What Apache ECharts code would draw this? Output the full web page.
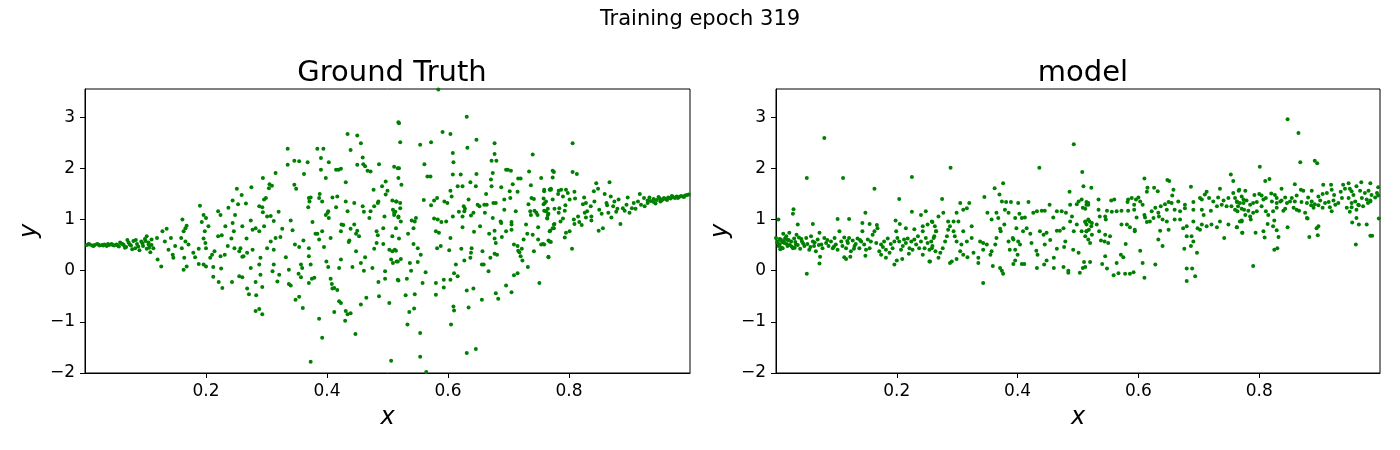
<!DOCTYPE html>
<html>
<head>
<meta charset="utf-8">
<script src="https://cdn.jsdelivr.net/npm/echarts@6/dist/echarts.min.js"></script>
<style>
  html, body { margin: 0; padding: 0; background: #fff; }
  #main { width: 1400px; height: 450px; }
</style>
</head>
<body>
<div id="main"></div>
<script>
// values, [x, y]
const groundTruth = [
  [0.003,0.50],[0.008,0.51],[0.012,0.49],[0.016,0.50],[0.020,0.52],[0.024,0.49],[0.028,0.50],[0.032,0.51],
  [0.036,0.48],[0.040,0.50],[0.044,0.52],[0.048,0.49],[0.052,0.51],[0.056,0.47],[0.060,0.53],[0.064,0.50],
  [0.068,0.46],[0.072,0.55],[0.076,0.49],[0.080,0.58],[0.083,0.44],[0.086,0.52],[0.090,0.40],[0.093,0.57],
  [0.096,0.48],[0.099,0.62],[0.102,0.43],[0.105,0.55],[0.108,0.36],[0.110,0.50],[0.058,0.55],[0.066,0.45],
  [0.070,0.60],[0.078,0.42],[0.084,0.60],[0.006,0.52],[0.014,0.48],[0.022,0.51],[0.030,0.49],[0.038,0.52],
  [0.046,0.50],[0.054,0.49],[0.062,0.52],[0.074,0.51],[0.088,0.47],[0.095,0.53],[0.100,0.58],[0.106,0.45],
  [0.102,0.67],[0.105,0.51],[0.110,0.61],[0.113,0.44],[0.119,0.64],[0.120,0.22],[0.126,0.08],[0.128,0.77],
  [0.135,0.82],[0.132,0.57],[0.138,0.41],[0.142,0.64],[0.145,0.31],[0.146,0.25],[0.149,0.48],
  [0.161,1.00],[0.166,0.83],[0.168,0.88],[0.163,0.77],[0.159,0.64],[0.166,0.57],[0.160,0.44],[0.171,0.51],
  [0.164,0.25],[0.163,0.02],[0.168,0.08],
  [0.190,1.27],[0.196,1.09],[0.193,0.95],[0.200,1.03],[0.204,0.87],[0.198,0.77],[0.196,0.63],[0.199,0.54],
  [0.188,0.43],[0.200,0.44],[0.179,0.35],[0.182,0.26],[0.188,0.13],[0.196,0.12],[0.200,0.08],[0.207,0.25],
  [0.210,0.31],[0.212,0.07],[0.214,0.38],[0.220,1.16],[0.224,1.09],[0.220,0.67],[0.226,0.69],[0.224,0.28],
  [0.231,0.31],[0.225,0.04],[0.212,-0.12],[0.221,-0.22],[0.227,-0.34],[0.243,-0.22],[0.232,0.87],[0.236,0.48],
  [0.242,0.63],[0.244,0.93],[0.246,0.77],[0.248,1.09],[0.237,1.23],[0.244,1.37],[0.253,1.30],[0.251,1.60],
  [0.247,0.44],[0.255,0.38],[0.262,0.28],[0.255,-0.11],
  [0.259,1.48],[0.266,1.31],[0.275,1.63],[0.260,0.87],[0.267,0.63],[0.257,0.44],[0.260,0.27],[0.268,0.35],
  [0.277,0.41],[0.277,0.80],[0.274,0.98],[0.282,0.83],[0.274,0.05],[0.260,-0.13],[0.268,-0.35],[0.271,-0.46],
  [0.282,-0.22],[0.282,-0.79],[0.288,-0.75],[0.293,-0.85],[0.283,-0.48],[0.293,-0.32],[0.290,-0.08],[0.288,0.12],
  [0.290,0.25],[0.294,1.81],[0.296,1.39],[0.299,1.42],[0.293,1.24],[0.288,1.26],[0.294,1.14],[0.288,0.77],
  [0.296,0.87],[0.301,1.06],[0.307,1.07],[0.304,1.61],[0.309,1.66],[0.305,1.69],[0.312,0.97],[0.315,1.91],
  [0.320,1.15],[0.301,0.44],[0.307,0.57],[0.312,0.41],[0.310,-0.01],[0.312,0.12],[0.318,-0.21],[0.321,-0.08],
  [0.315,0.64],[0.323,0.66],[0.326,0.82],[0.332,0.26],[0.335,2.38],[0.335,2.07],[0.340,0.98],[0.343,0.79],
  [0.337,0.02],[0.337,-0.26],[0.340,-0.29],[0.346,1.68],[0.349,1.60],[0.346,2.15],[0.354,2.14],[0.347,0.51],
  [0.354,0.46],[0.357,0.12],[0.353,-0.06],[0.357,-0.13],[0.359,0.05],[0.361,0.59],[0.348,-0.57],[0.354,-0.51],
  [0.360,-0.73],[0.362,1.89],[0.368,2.12],[0.369,1.24],[0.370,1.42],[0.371,1.35],[0.373,1.43],[0.370,0.44],
  [0.370,0.28],[0.373,0.12],[0.370,-0.24],[0.376,0.95],[0.379,-0.14],[0.375,-0.16],[0.384,2.38],[0.394,2.38],
  [0.390,2.20],[0.390,1.97],[0.388,1.50],[0.387,1.42],[0.392,1.35],[0.398,1.81],[0.398,1.09],[0.401,1.13],
  [0.402,1.16],[0.381,0.72],[0.384,0.72],[0.387,0.61],[0.392,0.77],[0.395,0.46],[0.403,1.03],[0.403,2.12],
  [0.399,0.18],[0.402,0.07],[0.406,0.64],[0.406,-0.16],[0.408,-0.26],[0.412,-0.34],[0.409,-0.35],[0.417,-0.38],
  [0.412,-0.81],[0.409,1.43],[0.415,1.97],[0.419,1.97],[0.417,1.45],[0.415,1.24],[0.423,1.99],[0.423,0.77],
  [0.424,0.90],[0.427,0.89],[0.423,0.22],[0.420,0.05],[0.420,-0.60],[0.423,-0.63],[0.431,-0.79],[0.434,-0.85],
  [0.430,-0.98],[0.439,-0.83],[0.431,1.73],[0.434,2.67],[0.439,2.36],[0.450,2.64],[0.456,2.49],[0.459,2.21],
  [0.460,2.08],[0.463,2.04],[0.450,2.07],[0.431,1.35],[0.434,1.16],[0.437,0.59],[0.436,0.56],[0.439,0.82],
  [0.445,1.32],[0.445,0.90],[0.448,0.72],[0.450,0.78],[0.453,0.67],[0.459,1.26],[0.461,1.15],[0.448,0.38],
  [0.442,0.07],[0.456,0.15],[0.463,0.26],[0.461,0.00],[0.447,-1.24],[0.467,1.95],[0.472,1.94],[0.465,-0.53],
  [0.456,-0.66],[0.470,1.03],[0.472,1.16],[0.475,0.05],[0.477,1.58],[0.478,1.26],[0.484,1.32],[0.485,1.35],
  [0.486,2.08],[0.482,0.77],[0.484,0.69],[0.478,0.43],[0.482,0.54],[0.485,-0.22],[0.486,-0.50],[0.491,1.65],
  [0.495,1.06],[0.497,1.74],[0.493,0.83],[0.493,0.52],[0.497,1.49],[0.500,1.56],[0.496,-0.01],[0.496,-0.16],
  [0.503,-0.63],[0.506,-1.76],[0.373,-1.78],[0.392,-1.31],[0.387,-0.94],[0.508,1.37],[0.514,1.35],[0.511,2.03],
  [0.517,2.00],[0.518,2.90],[0.509,1.19],[0.513,1.15],[0.511,1.09],[0.514,0.39],[0.508,0.38],[0.509,0.15],
  [0.515,0.18],[0.518,1.06],[0.508,0.67],[0.506,0.22],[0.503,0.41],
  [0.584,3.54],[0.519,2.88],[0.521,2.51],[0.519,2.00],[0.518,1.81],[0.523,1.68],[0.515,1.35],[0.521,1.32],
  [0.521,1.22],[0.511,1.13],[0.518,1.04],[0.522,0.96],[0.514,0.83],[0.519,0.63],[0.512,0.41],[0.517,0.18],
  [0.522,0.23],[0.517,-0.18],[0.518,-0.19],[0.533,-1.05],[0.536,-0.81],[0.544,-0.74],[0.545,-0.46],[0.530,-0.48],
  [0.532,-0.16],[0.539,0.00],[0.537,0.15],[0.534,0.72],[0.543,0.83],[0.545,0.96],[0.540,0.98],[0.547,1.03],
  [0.543,0.52],[0.550,0.44],[0.555,0.31],[0.550,0.17],[0.558,-0.24],[0.563,-0.03],[0.554,-1.22],[0.554,-1.68],
  [0.564,-1.98],[0.554,2.46],[0.561,2.08],[0.566,1.84],[0.571,1.84],[0.560,1.38],[0.572,2.51],[0.572,1.28],
  [0.577,1.37],[0.582,1.42],[0.577,1.02],[0.580,0.77],[0.585,0.74],[0.583,1.00],[0.582,0.44],[0.588,0.48],
  [0.580,-0.24],[0.580,-0.47],[0.591,2.71],[0.593,-0.33],[0.593,-0.18],[0.589,0.95],[0.597,0.96],[0.594,1.35],
  [0.599,1.32],[0.604,2.67],[0.604,1.56],[0.608,2.30],[0.609,2.12],[0.608,1.88],[0.606,1.45],[0.608,1.06],
  [0.604,0.64],[0.602,0.40],[0.604,-0.18],[0.609,-0.70],[0.610,-0.78],[0.605,-1.05],[0.613,0.12],[0.610,-0.05],
  [0.616,-0.11],[0.618,1.15],[0.616,1.65],[0.621,1.88],[0.624,1.65],[0.626,1.26],[0.624,1.06],[0.628,1.21],
  [0.627,1.16],[0.624,0.85],[0.622,0.43],[0.627,0.20],[0.632,2.40],[0.631,3.01],[0.634,1.39],[0.637,1.73],
  [0.638,1.08],[0.639,0.44],[0.638,0.35],[0.637,0.25],[0.631,-0.39],[0.634,-0.72],[0.642,-0.35],[0.643,0.76],
  [0.642,1.13],[0.646,1.65],[0.647,1.89],[0.647,2.56],[0.649,1.29],[0.652,1.26],[0.653,0.87],[0.656,0.12],
  [0.659,0.12],[0.656,-0.57],[0.631,-1.61],[0.646,-1.53],[0.657,0.38],[0.660,1.29],[0.664,1.29],[0.661,1.13],
  [0.663,1.50],[0.668,0.72],[0.671,1.78],[0.672,1.65],[0.674,1.91],[0.670,0.25],[0.667,-0.01],[0.677,2.49],
  [0.677,2.28],[0.672,2.15],[0.680,2.15],[0.674,1.03],[0.675,1.32],[0.679,1.32],[0.677,0.78],[0.677,0.63],
  [0.679,0.54],[0.677,0.33],[0.681,0.31],[0.679,-0.44],[0.683,-0.55],[0.688,1.63],[0.689,0.66],[0.687,0.96],
  [0.688,0.93],[0.693,1.19],[0.693,1.39],[0.696,1.97],[0.699,1.97],[0.696,0.77],[0.696,-0.29],[0.702,1.55],
  [0.703,1.42],[0.704,1.95],[0.705,0.90],[0.707,1.69],[0.705,0.95],[0.705,0.80],[0.709,0.51],[0.709,-0.09],
  [0.705,-0.42],[0.712,1.16],[0.715,-0.05],[0.716,1.80],[0.720,1.80],[0.715,1.54],[0.715,0.48],[0.716,0.39],
  [0.718,0.36],[0.720,0.28],[0.722,0.43],[0.723,0.20],[0.725,0.61],[0.731,0.72],[0.732,0.07],[0.729,0.90],
  [0.733,1.30],[0.734,1.94],[0.737,1.67],[0.736,1.16],[0.737,1.09],[0.740,2.27],[0.738,1.42],[0.742,1.40],
  [0.743,1.17],[0.740,0.70],[0.742,0.38],[0.746,1.13],[0.748,1.09],[0.749,0.61],[0.749,0.85],[0.754,1.81],
  [0.751,-0.24],[0.754,0.51],[0.757,0.52],[0.758,1.41],[0.758,1.30],[0.759,1.58],[0.760,1.32],[0.762,1.16],
  [0.764,1.03],[0.765,1.21],[0.766,1.11],[0.768,1.58],[0.768,0.57],[0.769,0.78],[0.766,0.26],[0.770,1.60],
  [0.773,1.95],[0.775,0.90],[0.773,0.83],
  [0.806,2.49],[0.775,1.93],[0.773,1.82],[0.806,1.93],[0.813,1.89],[0.759,1.55],[0.770,1.58],[0.783,1.56],
  [0.787,1.58],[0.795,1.58],[0.798,1.52],[0.809,1.54],[0.810,1.41],[0.762,1.35],[0.773,1.39],[0.782,1.50],
  [0.790,1.45],[0.794,1.28],[0.801,1.39],[0.759,1.17],[0.765,1.09],[0.764,1.02],[0.776,1.21],[0.784,1.22],
  [0.783,1.13],[0.793,1.17],[0.790,1.02],[0.786,0.96],[0.776,0.91],[0.775,0.83],[0.768,0.77],[0.766,0.59],
  [0.770,0.56],[0.759,0.51],[0.766,0.27],[0.793,0.65],[0.795,0.74],[0.801,0.77],[0.805,0.43],[0.809,0.91],
  [0.808,1.00],[0.815,1.06],[0.817,0.95],[0.821,0.89],[0.825,1.43],[0.823,1.30],[0.826,1.13],[0.828,1.32],
  [0.830,1.16],[0.828,1.04],[0.836,1.26],[0.837,1.06],[0.837,0.98],[0.841,1.55],[0.842,1.35],[0.845,1.71],
  [0.848,1.60],[0.849,0.78],[0.850,1.19],[0.854,1.11],[0.856,0.83],[0.859,1.50],[0.862,1.32],[0.863,1.28],
  [0.865,1.13],[0.867,1.73],[0.869,1.45],[0.870,1.04],[0.873,1.26],[0.875,1.35],[0.878,1.15],[0.880,1.21],
  [0.885,0.91],[0.882,1.39],[0.889,1.22],[0.892,1.17],[0.895,1.29],[0.897,1.43],[0.900,1.13],[0.904,1.22],
  [0.907,1.32],[0.910,1.21],[0.914,1.35],[0.917,1.50],[0.919,1.29],[0.924,1.42],[0.925,1.26],[0.930,1.37],
  [0.935,1.36],[0.940,1.40],[0.945,1.38],[0.950,1.41],[0.953,1.37],[0.957,1.42],[0.960,1.40],[0.964,1.43],
  [0.968,1.41],[0.972,1.44],[0.975,1.42],[0.978,1.45],[0.982,1.44],[0.985,1.46],[0.988,1.45],[0.992,1.47],
  [0.995,1.48],[0.998,1.49],[0.940,1.34],[0.948,1.44],[0.955,1.39],[0.962,1.38],[0.970,1.46],[0.980,1.42],
  [0.990,1.44],[0.930,1.32],[0.933,1.43],[0.943,1.31],[0.951,1.35]
];

const modelOutput = [
  [0.080,2.59],[0.051,1.81],[0.111,1.81],[0.163,1.60],[0.204,1.40],[0.225,1.83],[0.004,1.00],[0.029,1.20],
  [0.028,1.11],[0.036,0.90],[0.061,0.91],[0.102,1.01],[0.121,1.01],[0.148,1.13],[0.143,0.93],[0.155,0.91],
  [0.167,0.89],[0.198,0.98],[0.205,0.91],[0.225,1.15],[0.240,1.09],[0.248,1.16],[0.259,0.95],[0.265,0.77],
  [0.215,0.83],[0.229,0.81],[0.243,0.87],[0.251,0.90],[0.051,-0.06],[0.072,0.14],[0.073,0.27],[0.113,0.26],
  [0.123,0.27],[0.116,0.23],[0.148,0.29],[0.196,0.12],[0.200,0.20],[0.209,0.23],[0.254,0.18],[0.243,0.31],
  [0.220,0.33],[0.182,0.25],[0.174,0.31],
  [0.000,0.64],[0.003,0.57],[0.006,0.51],[0.008,0.61],[0.011,0.44],[0.014,0.54],[0.017,0.67],[0.019,0.48],
  [0.022,0.74],[0.025,0.57],[0.028,0.44],[0.030,0.63],[0.033,0.51],[0.038,0.65],[0.040,0.43],[0.043,0.57],
  [0.047,0.48],[0.050,0.64],[0.052,0.52],[0.055,0.41],[0.058,0.67],[0.061,0.57],[0.063,0.48],[0.066,0.38],
  [0.069,0.61],[0.072,0.74],[0.075,0.51],[0.077,0.44],[0.080,0.64],[0.083,0.54],[0.087,0.48],[0.091,0.57],
  [0.094,0.44],[0.097,0.64],[0.099,0.51],[0.102,0.41],[0.105,0.77],[0.108,0.57],[0.110,0.48],[0.113,0.65],
  [0.116,0.44],[0.119,0.54],[0.121,0.64],[0.124,0.38],[0.127,0.59],[0.130,0.48],[0.132,0.52],[0.135,0.63],
  [0.138,0.44],[0.141,0.57],[0.143,0.77],[0.146,0.51],[0.149,0.41],[0.152,0.61],[0.155,0.44],[0.157,0.57],
  [0.160,0.70],[0.163,0.77],[0.166,0.54],[0.168,0.83],[0.171,0.38],[0.174,0.51],[0.177,0.46],[0.179,0.57],
  [0.182,0.41],[0.185,0.63],[0.188,0.35],[0.190,0.52],[0.193,0.44],[0.196,0.57],[0.199,0.77],[0.201,0.64],
  [0.204,0.57],[0.207,0.41],[0.210,0.48],[0.212,0.61],[0.215,0.54],[0.218,0.63],[0.221,0.44],[0.224,0.57],
  [0.226,0.41],[0.229,0.61],[0.232,0.51],[0.235,0.67],[0.237,0.44],[0.240,0.57],[0.243,0.77],[0.246,0.44],
  [0.248,0.64],[0.251,0.54],[0.254,0.41],[0.257,0.57],[0.259,0.48],[0.262,0.67],[0.264,0.38],
  [0.002,0.55],[0.006,0.62],[0.009,0.45],[0.013,0.58],[0.018,0.52],[0.021,0.60],[0.026,0.47],[0.032,0.56],
  [0.036,0.50],[0.042,0.62],[0.004,0.48],[0.010,0.56],[0.015,0.63],[0.023,0.50],[0.031,0.45],[0.045,0.53],
  [0.057,0.46],[0.064,0.55],[0.071,0.50],[0.085,0.60],[0.096,0.47],[0.118,0.58],[0.129,0.43],[0.139,0.60],
  [0.012,0.72],[0.019,0.60],[0.034,0.70],[0.007,0.42],
  [0.493,2.47],[0.289,2.01],[0.436,2.01],[0.507,1.93],[0.376,1.71],[0.362,1.61],[0.370,1.49],[0.345,1.44],
  [0.275,1.40],[0.305,1.32],[0.320,1.32],[0.316,1.22],[0.310,1.19],[0.299,1.13],[0.277,1.13],[0.269,1.06],
  [0.258,0.96],[0.263,0.87],[0.285,0.96],[0.294,0.96],[0.302,0.96],[0.324,0.87],[0.350,1.13],[0.357,1.00],
  [0.365,1.13],[0.368,1.03],[0.374,1.35],[0.381,1.34],[0.389,1.34],[0.401,1.32],[0.418,1.34],[0.379,1.19],
  [0.385,1.13],[0.403,1.11],[0.396,1.03],[0.407,1.03],[0.412,1.04],[0.426,1.13],[0.432,1.16],[0.440,1.17],
  [0.445,1.17],[0.453,1.29],[0.459,1.04],[0.465,1.16],[0.473,1.16],[0.480,1.13],[0.486,1.54],[0.487,1.29],
  [0.490,1.06],[0.498,1.30],[0.501,1.35],[0.506,1.39],[0.508,1.23],[0.509,1.65],[0.514,1.29],[0.517,1.32],
  [0.519,0.96],[0.487,0.96],[0.512,0.95],[0.514,0.90],[0.498,0.90],[0.343,-0.24],[0.359,0.09],[0.371,0.05],
  [0.376,-0.06],[0.374,0.00],[0.393,0.13],[0.396,0.20],[0.407,0.13],[0.411,0.13],[0.432,0.05],[0.444,0.12],
  [0.448,0.20],[0.460,0.05],[0.460,0.25],[0.476,0.07],[0.484,0.00],[0.484,-0.04],[0.503,-0.04],[0.508,0.05],
  [0.510,0.17],[0.492,0.41],[0.501,0.35],[0.477,0.46],[0.479,0.57],[0.465,0.43],[0.454,0.60],[0.445,0.51],
  [0.433,0.31],[0.431,0.39],[0.423,0.54],[0.421,0.72],[0.415,0.83],[0.409,0.77],[0.404,0.51],[0.400,0.31],
  [0.396,0.41],[0.392,0.64],[0.387,0.41],[0.385,0.57],[0.378,0.90],[0.372,0.77],[0.365,0.64],[0.363,0.51],
  [0.357,0.38],[0.355,0.31],[0.349,0.51],[0.343,0.54],[0.338,0.57],[0.335,0.15],[0.335,0.25],[0.327,0.35],
  [0.324,0.64],[0.316,0.57],[0.310,0.77],[0.307,0.51],[0.305,0.38],[0.299,0.57],[0.296,0.67],[0.294,0.77],
  [0.288,0.87],[0.285,0.80],[0.283,0.67],[0.280,0.57],[0.276,0.44],[0.272,0.35],[0.269,0.25],[0.265,0.77],
  [0.261,0.64],[0.258,0.44],[0.255,0.18],[0.288,0.15],[0.291,0.18],[0.299,0.23],[0.310,0.31],[0.317,0.26],
  [0.343,0.41],[0.393,0.61],[0.401,0.57],[0.371,0.82],[0.398,0.83],[0.437,0.77],[0.443,0.70],[0.448,0.74],
  [0.465,0.78],[0.470,0.78],[0.476,0.83],[0.493,0.77],[0.506,0.77],[0.514,0.77],[0.517,0.61],
  [0.610,1.80],[0.648,1.77],[0.651,1.75],[0.753,1.88],[0.757,1.75],[0.687,1.64],[0.522,1.62],[0.615,1.62],
  [0.626,1.62],[0.632,1.55],[0.614,1.54],[0.658,1.58],[0.656,1.47],[0.534,1.39],[0.555,1.37],[0.560,1.39],
  [0.583,1.39],[0.589,1.42],[0.596,1.39],[0.600,1.43],[0.603,1.35],[0.514,1.34],[0.517,1.29],[0.593,1.29],
  [0.607,1.29],[0.582,1.34],[0.644,1.30],[0.650,1.34],[0.655,1.32],[0.628,1.23],[0.637,1.26],[0.666,1.35],
  [0.677,1.29],[0.691,1.34],[0.702,1.42],[0.705,1.39],[0.710,1.49],[0.713,1.54],[0.717,1.42],[0.724,1.35],
  [0.732,1.43],[0.735,1.60],[0.741,1.37],[0.749,1.42],[0.757,1.52],[0.763,1.35],[0.767,1.58],[0.771,1.45],
  [0.774,1.32],[0.512,1.21],[0.534,1.19],[0.548,1.17],[0.556,1.15],[0.564,1.16],[0.572,1.17],[0.583,1.17],
  [0.593,1.19],[0.610,1.09],[0.622,1.16],[0.633,1.13],[0.647,1.19],[0.660,1.19],[0.669,1.16],[0.677,1.22],
  [0.691,1.19],[0.705,1.19],[0.708,1.09],[0.720,1.17],[0.730,1.26],[0.738,1.29],[0.746,1.26],[0.754,1.26],
  [0.765,1.26],[0.775,1.19],[0.512,0.96],[0.517,1.00],[0.523,0.93],[0.522,0.87],[0.518,0.80],[0.536,1.06],
  [0.545,1.06],[0.546,1.00],[0.531,0.90],[0.514,0.77],[0.512,0.67],[0.523,0.70],[0.535,0.77],[0.545,0.70],
  [0.550,0.54],[0.553,0.67],[0.520,0.54],[0.538,0.59],[0.544,0.57],[0.572,0.90],[0.581,0.90],[0.586,0.85],
  [0.594,0.77],[0.597,1.04],[0.611,1.04],[0.614,0.95],[0.619,0.96],[0.625,1.03],[0.634,1.06],[0.640,1.00],
  [0.647,0.96],[0.636,0.78],[0.633,0.61],[0.640,0.48],[0.650,0.80],[0.660,1.00],[0.669,1.00],[0.674,0.83],
  [0.680,0.87],[0.691,0.96],[0.698,0.83],[0.702,0.80],[0.705,0.90],[0.713,0.87],[0.721,0.90],[0.730,0.85],
  [0.735,0.96],[0.742,0.64],[0.749,0.90],[0.763,0.85],[0.771,0.96],[0.772,0.74],[0.680,0.67],[0.688,0.67],
  [0.691,0.57],[0.676,0.43],[0.687,0.48],[0.697,0.35],[0.680,0.04],[0.689,0.04],[0.694,-0.11],[0.680,-0.20],
  [0.603,0.39],[0.607,0.15],[0.610,-0.14],[0.628,0.12],[0.579,0.52],[0.571,0.31],[0.575,0.26],[0.564,0.15],
  [0.567,-0.05],[0.559,-0.09],[0.578,-0.06],[0.586,-0.06],[0.592,-0.03],[0.540,0.13],[0.548,0.04],[0.520,0.17],
  [0.512,0.07],[0.545,0.28],[0.594,0.80],
  [0.847,2.96],[0.865,2.69],[0.868,2.12],[0.892,2.15],[0.896,2.10],[0.801,2.03],[0.810,1.75],[0.817,1.79],
  [0.859,1.69],[0.906,1.68],[0.919,1.68],[0.939,1.68],[0.948,1.71],[0.969,1.73],[0.984,1.71],[0.766,1.56],
  [0.777,1.56],[0.800,1.50],[0.804,1.47],[0.792,1.48],[0.820,1.51],[0.826,1.48],[0.837,1.60],[0.829,1.42],
  [0.843,1.43],[0.854,1.42],[0.862,1.47],[0.869,1.58],[0.873,1.56],[0.887,1.56],[0.881,1.43],[0.898,1.45],
  [0.905,1.50],[0.912,1.52],[0.920,1.58],[0.924,1.48],[0.935,1.54],[0.942,1.60],[0.950,1.60],[0.953,1.55],
  [0.956,1.48],[0.961,1.65],[0.967,1.56],[0.975,1.52],[0.981,1.56],[0.986,1.48],[0.995,1.52],[0.997,1.63],
  [0.760,1.42],[0.763,1.34],[0.768,1.32],[0.774,1.39],[0.779,1.37],[0.785,1.29],[0.790,1.32],[0.796,1.34],
  [0.807,1.39],[0.811,1.42],[0.821,1.35],[0.829,1.32],[0.835,1.35],[0.837,1.37],[0.846,1.32],[0.851,1.35],
  [0.859,1.35],[0.870,1.34],[0.879,1.32],[0.887,1.35],[0.892,1.30],[0.901,1.37],[0.909,1.32],[0.915,1.34],
  [0.923,1.37],[0.931,1.32],[0.937,1.42],[0.948,1.42],[0.953,1.32],[0.959,1.35],[0.964,1.29],[0.970,1.42],
  [0.978,1.39],[0.984,1.35],[0.992,1.43],[0.997,1.47],[0.760,1.19],[0.764,1.16],[0.771,1.21],[0.777,1.09],
  [0.782,1.17],[0.785,1.06],[0.790,1.13],[0.796,1.16],[0.804,1.26],[0.811,1.16],[0.815,1.09],[0.823,1.16],
  [0.829,1.23],[0.840,1.17],[0.843,1.21],[0.857,1.23],[0.862,1.19],[0.866,1.17],[0.876,1.13],[0.879,1.03],
  [0.886,1.28],[0.890,1.23],[0.898,1.28],[0.905,1.23],[0.917,1.24],[0.920,1.16],[0.926,1.29],[0.945,1.23],
  [0.950,1.15],[0.953,1.24],[0.961,1.19],[0.965,1.28],[0.972,1.26],[0.980,1.32],[0.984,1.37],[0.998,1.02],
  [0.763,0.85],[0.768,0.96],[0.771,0.98],[0.772,0.74],[0.786,1.00],[0.794,0.74],[0.807,0.77],[0.809,0.65],
  [0.814,0.91],[0.823,0.87],[0.825,0.98],[0.829,0.79],[0.832,0.66],[0.847,0.85],[0.825,0.41],[0.830,0.44],
  [0.895,0.83],[0.898,0.87],[0.897,0.69],[0.883,0.66],[0.880,1.02],[0.954,0.94],[0.965,0.90],[0.961,1.03],
  [0.978,0.90],[0.984,0.68],[0.987,0.68],[0.960,0.51],[0.790,0.09]
];

const panelTitles = ['Ground Truth', 'model'];
const figureTitle = 'Training epoch 319';
const xRange = [0, 1];
const yRange = [-2, 3.55];

const chart = echarts.init(document.getElementById('main'));
const green = '#008000';
const font = 'DejaVu Sans';

function xAxisFor(idx) {
    return {
        type: 'value', gridIndex: idx, min: xRange[0], max: xRange[1], interval: 0.2,
        name: 'x', nameLocation: 'middle', nameGap: 33,
        nameTextStyle: { fontFamily: font, fontStyle: 'italic', fontSize: 24, color: '#000' },
        axisLine: { show: true, onZero: false, lineStyle: { color: '#000', width: 1 } },
        axisTick: { show: true, length: 5, lineStyle: { color: '#000' } },
        axisLabel: {
            fontFamily: font, fontSize: 17, color: '#000', margin: 10,
            showMinLabel: false, showMaxLabel: false,
            formatter: (v) => v.toFixed(1)
        },
        splitLine: { show: false }
    };
}

function yAxisFor(idx) {
    return {
        type: 'value', gridIndex: idx, min: yRange[0], max: yRange[1], interval: 1,
        name: 'y', nameLocation: 'middle', nameGap: 43, nameRotate: 90,
        nameTextStyle: { fontFamily: font, fontStyle: 'italic', fontSize: 24, color: '#000' },
        axisLine: { show: true, onZero: false, lineStyle: { color: '#000', width: 1 } },
        axisTick: { show: true, length: 5, lineStyle: { color: '#000' } },
        axisLabel: {
            fontFamily: font, fontSize: 17, color: '#000', margin: 10, showMaxLabel: false,
            formatter: (v) => String(v).replace('-', '\u2212')
        },
        splitLine: { show: false }
    };
}

const option = {
    animation: false,
    backgroundColor: '#fff',
    title: [
        { text: figureTitle, left: 'center', top: 4,
          textStyle: { fontFamily: font, fontSize: 21, fontWeight: 'normal', color: '#000' } },
        { text: panelTitles[0], left: 387, top: 54, textAlign: 'center',
          textStyle: { fontFamily: font, fontSize: 29, fontWeight: 'normal', color: '#000' } },
        { text: panelTitles[1], left: 1078, top: 54, textAlign: 'center',
          textStyle: { fontFamily: font, fontSize: 29, fontWeight: 'normal', color: '#000' } }
    ],
    grid: [
        { left: 85, top: 89, width: 605, height: 284, show: true, borderColor: '#000', borderWidth: 1 },
        { left: 776, top: 89, width: 604, height: 284, show: true, borderColor: '#000', borderWidth: 1 }
    ],
    xAxis: [xAxisFor(0), xAxisFor(1)],
    yAxis: [yAxisFor(0), yAxisFor(1)],
    series: [
        { type: 'scatter', xAxisIndex: 0, yAxisIndex: 0, data: groundTruth,
          symbolSize: 4, itemStyle: { color: green, opacity: 1 } },
        { type: 'scatter', xAxisIndex: 1, yAxisIndex: 1, data: modelOutput,
          symbolSize: 4, itemStyle: { color: green, opacity: 1 } }
    ]
};

chart.setOption(option);
</script>
</body>
</html>
